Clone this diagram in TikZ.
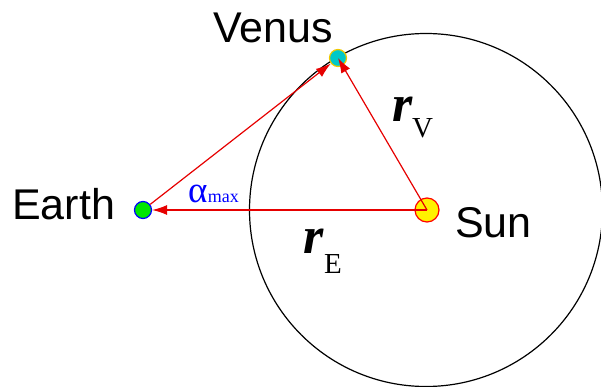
\documentclass[tikz,border=0pt]{standalone}
\usepackage{fontspec}
\setmainfont{Liberation Serif}
\setsansfont{Liberation Sans}
\usetikzlibrary{arrows.meta}
\definecolor{venusfill}{RGB}{0,200,200}
\definecolor{venusedge}{RGB}{240,200,0}
\definecolor{earthfill}{RGB}{0,230,0}
\definecolor{arrred}{RGB}{230,0,0}
\begin{document}
\begin{tikzpicture}[x=1pt,y=-1pt,
  planet/.style={circle,inner sep=0pt,line width=1.2pt},
  arr/.style={draw=arrred,line width=1.2pt,-{Latex[length=15pt,width=10pt]}},
  lbl/.style={inner sep=0pt,anchor=base west,font=\sffamily\fontsize{43}{50}\selectfont},
  rsym/.style={inner sep=0pt,anchor=base west,font=\fontsize{52}{60}\selectfont\bfseries\itshape},
  sub/.style={inner sep=0pt,anchor=base west,font=\fontsize{29}{30}\selectfont}]
\useasboundingbox (0,0) rectangle (601,387);
\draw[line width=1.2pt] (426,210) circle[radius=176.5];
\node[planet,draw=red,fill=yellow,minimum size=24pt] (sun) at (427,210) {};
\node[planet,draw=blue,fill=earthfill,minimum size=17pt] (earth) at (143,210) {};
\node[planet,draw=venusedge,fill=venusfill,minimum size=17pt] (venus) at (338,58) {};
\draw[arr] (sun.center) -- (earth);
\draw[arr] (sun.center) -- (venus.center);
\draw[arr] (earth) -- (venus);
\node[lbl] (lv) at (213,43) {Venus};
\node[lbl] (le) at (12,219) {Earth};
\node[lbl] (ls) at (455,237) {Sun};
\node[rsym] (rv) at (392,122) {r};
\node[sub] (rvs) at (412,138) {V};
\node[rsym] (re) at (303,253) {r};
\node[sub] (res) at (324,273) {E};
\node[inner sep=0pt,anchor=base west,text=blue,font=\fontsize{37}{40}\selectfont] (al) at (188,202) {α};
\node[inner sep=0pt,anchor=base west,text=blue,font=\fontsize{18}{20}\selectfont] (alm) at (al.base east) {max};
\end{tikzpicture}
\end{document}
